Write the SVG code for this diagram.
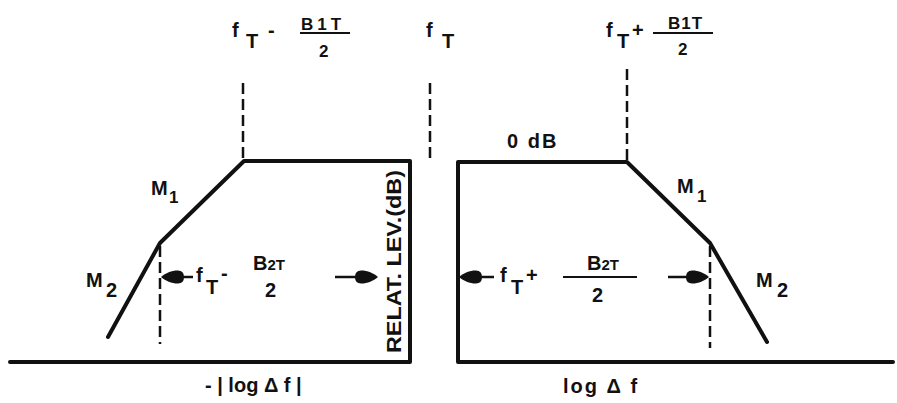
<svg xmlns="http://www.w3.org/2000/svg" width="897" height="403" viewBox="0 0 897 403">
<style>
.curve{fill:none;stroke:#111;stroke-width:4;stroke-linejoin:round;stroke-linecap:round}
.dash{fill:none;stroke:#111;stroke-width:2.5;stroke-dasharray:11 5}
.bar{stroke:#111;stroke-width:2}
.arr{stroke:#111;stroke-width:2.5;fill:none}
text{font-family:"Liberation Sans",Arial,sans-serif;font-weight:bold;fill:#111;font-size:20px}
.s{font-size:17px;letter-spacing:1px}
.sub{font-size:20px}
</style>
<defs>
<path id="headL" d="M0,0 C5,-4 10,-6.5 17,-6.5 Q23,-6.5 23,0 Q23,6.5 17,6.5 C10,6.5 5,4 0,0 Z" fill="#111"/>
</defs>
<rect width="897" height="403" fill="#fff"/>
<g id="left-plot">
<path class="curve" d="M108,337 L160,243 L244,161 L410,161 L410,362 L10,362"/>
<line class="dash" x1="243" y1="83" x2="243" y2="160"/>
<line class="dash" x1="160" y1="246" x2="160" y2="344"/>
</g>
<g id="center">
<line class="dash" x1="430" y1="83" x2="430" y2="160"/>
<text x="426" y="37">f</text><text class="sub" x="442" y="48">T</text>
</g>
<g id="right-plot">
<path class="curve" d="M893,362 L458,362 L458,162 L627,162 L710,243 L767,342"/>
<line class="dash" x1="627" y1="69" x2="627" y2="160"/>
<line class="dash" x1="710" y1="246" x2="710" y2="348"/>
</g>
<g id="connectors">
<line class="arr" x1="175" y1="277" x2="193" y2="277"/>
<use href="#headL" transform="translate(161,277)"/>
<line class="arr" x1="335" y1="277" x2="360" y2="277"/>
<use href="#headL" transform="translate(378,277) rotate(180)"/>
<line class="arr" x1="472" y1="277" x2="494" y2="277"/>
<use href="#headL" transform="translate(459,277)"/>
<line class="arr" x1="668" y1="277" x2="692" y2="277"/>
<use href="#headL" transform="translate(709,277) rotate(180)"/>
</g>
<g id="labels-top">
<text x="232" y="37">f</text><text class="sub" x="246" y="48">T</text>
<text x="268" y="37">-</text>
<line class="bar" x1="300" y1="33" x2="350" y2="33"/>
<text class="s" x="301" y="30" style="letter-spacing:4px">B1T</text>
<text class="s" x="319" y="57">2</text>
<text x="606" y="37">f</text><text class="sub" x="617" y="48">T</text>
<text x="632" y="37">+</text>
<line class="bar" x1="653" y1="33" x2="713" y2="33"/>
<text class="s" x="668" y="29">B1T</text>
<text class="s" x="678" y="55">2</text>
<text x="507" y="148" style="letter-spacing:2px">0 dB</text>
</g>
<g id="labels-left">
<text x="151" y="195">M</text><text class="s" x="169" y="203">1</text>
<text x="86" y="287">M</text><text class="sub" x="106" y="297">2</text>
<text x="196" y="282">f</text><text class="sub" x="206" y="294">T</text>
<text x="221" y="280">-</text>
<text x="253" y="270">B<tspan font-size="15">2T</tspan></text>
<text class="sub" x="265" y="297">2</text>
<text x="401" y="353" transform="rotate(-90 401 353)" textLength="183" lengthAdjust="spacingAndGlyphs">RELAT. LEV.(dB)</text>
<text x="205" y="392">- | log Δ f |</text>
</g>
<g id="labels-right">
<text x="677" y="193">M</text><text class="s" x="697" y="202">1</text>
<text x="756" y="287">M</text><text class="sub" x="777" y="297">2</text>
<text x="500" y="282">f</text><text class="sub" x="511" y="294">T</text>
<text x="526" y="282">+</text>
<line class="bar" x1="563" y1="277" x2="637" y2="277"/>
<text x="587" y="270">B<tspan font-size="15">2T</tspan></text>
<text class="sub" x="592" y="302">2</text>
<text x="563" y="393" style="letter-spacing:2px">log  Δ f</text>
</g>
</svg>
